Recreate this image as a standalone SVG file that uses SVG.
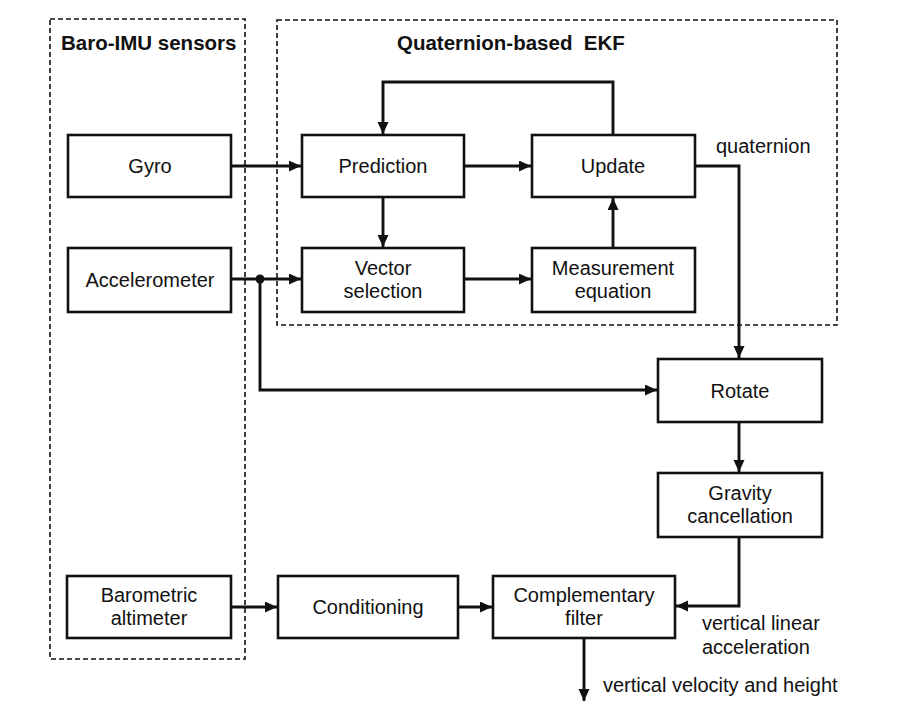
<svg xmlns="http://www.w3.org/2000/svg" width="912" height="714" viewBox="0 0 912 714">
<style>
.grp{fill:none;stroke:#111;stroke-width:1.6;stroke-dasharray:5,3}
.box{fill:#fff;stroke:#111;stroke-width:2.6}
.t{font-family:"Liberation Sans",Arial,sans-serif;font-size:20px;fill:#111;text-anchor:middle}
.tl{font-family:"Liberation Sans",Arial,sans-serif;font-size:20px;fill:#111}
.h{font-family:"Liberation Sans",Arial,sans-serif;font-size:20.5px;font-weight:bold;fill:#111}
.c{fill:none;stroke:#111;stroke-width:2.9;stroke-linejoin:miter}
</style>
<defs>
<marker id="ah" markerUnits="userSpaceOnUse" markerWidth="13" markerHeight="13" refX="12" refY="5.5" orient="auto">
<path d="M0,0 L12,5.5 L0,11 z" fill="#111"/>
</marker>
</defs>
<rect width="912" height="714" fill="#fff"/>
<g id="group-sensors">
<rect class="grp" x="50" y="19" width="195" height="640"/>
<text class="h" x="61" y="50">Baro-IMU sensors</text>
</g>
<g id="group-ekf">
<rect class="grp" x="277" y="20" width="560" height="305"/>
<text class="h" x="397" y="50" xml:space="preserve">Quaternion-based  EKF</text>
</g>
<g id="connectors">
<path class="c" d="M613,135 V82 H383 V134" marker-end="url(#ah)"/>
<path class="c" d="M231,166 H301" marker-end="url(#ah)"/>
<path class="c" d="M464,166 H531" marker-end="url(#ah)"/>
<path class="c" d="M383,197 V247" marker-end="url(#ah)"/>
<path class="c" d="M231,279 H301" marker-end="url(#ah)"/>
<path class="c" d="M464,279 H531" marker-end="url(#ah)"/>
<path class="c" d="M613,248 V198" marker-end="url(#ah)"/>
<path class="c" d="M695,166 H739 V358" marker-end="url(#ah)"/>
<path class="c" d="M260,279 V390 H657" marker-end="url(#ah)"/>
<circle cx="260" cy="279" r="4.5" fill="#111"/>
<path class="c" d="M739,422 V472" marker-end="url(#ah)"/>
<path class="c" d="M739,537 V606 H676" marker-end="url(#ah)"/>
<path class="c" d="M231,607 H277" marker-end="url(#ah)"/>
<path class="c" d="M458,607 H492" marker-end="url(#ah)"/>
<path class="c" d="M584,638 V701" marker-end="url(#ah)"/>
</g>
<g id="gyro"><rect class="box" x="68" y="135" width="163" height="62"/><text class="t" x="150" y="173">Gyro</text></g>
<g id="accelerometer"><rect class="box" x="68" y="248" width="163" height="64"/><text class="t" x="150" y="287">Accelerometer</text></g>
<g id="barometric-altimeter"><rect class="box" x="67" y="576" width="164" height="62"/><text class="t" x="149" y="602">Barometric</text><text class="t" x="149" y="625">altimeter</text></g>
<g id="prediction"><rect class="box" x="302" y="135" width="162" height="62"/><text class="t" x="383" y="173">Prediction</text></g>
<g id="vector-selection"><rect class="box" x="302" y="248" width="162" height="64"/><text class="t" x="383" y="275">Vector</text><text class="t" x="383" y="298">selection</text></g>
<g id="update"><rect class="box" x="532" y="135" width="163" height="62"/><text class="t" x="613" y="173">Update</text></g>
<g id="measurement-equation"><rect class="box" x="532" y="248" width="163" height="64"/><text class="t" x="613" y="275">Measurement</text><text class="t" x="613" y="298">equation</text></g>
<g id="rotate"><rect class="box" x="658" y="359" width="164" height="63"/><text class="t" x="740" y="398">Rotate</text></g>
<g id="gravity-cancellation"><rect class="box" x="658" y="473" width="164" height="64"/><text class="t" x="740" y="500">Gravity</text><text class="t" x="740" y="523">cancellation</text></g>
<g id="conditioning"><rect class="box" x="278" y="576" width="180" height="62"/><text class="t" x="368" y="614">Conditioning</text></g>
<g id="complementary-filter"><rect class="box" x="493" y="576" width="182" height="62"/><text class="t" x="584" y="602">Complementary</text><text class="t" x="584" y="625">filter</text></g>
<g id="labels">
<text class="tl" x="716" y="153">quaternion</text>
<text class="tl" x="702" y="630">vertical linear</text>
<text class="tl" x="702" y="654">acceleration</text>
<text class="tl" x="603" y="692">vertical velocity and height</text>
</g>
</svg>
